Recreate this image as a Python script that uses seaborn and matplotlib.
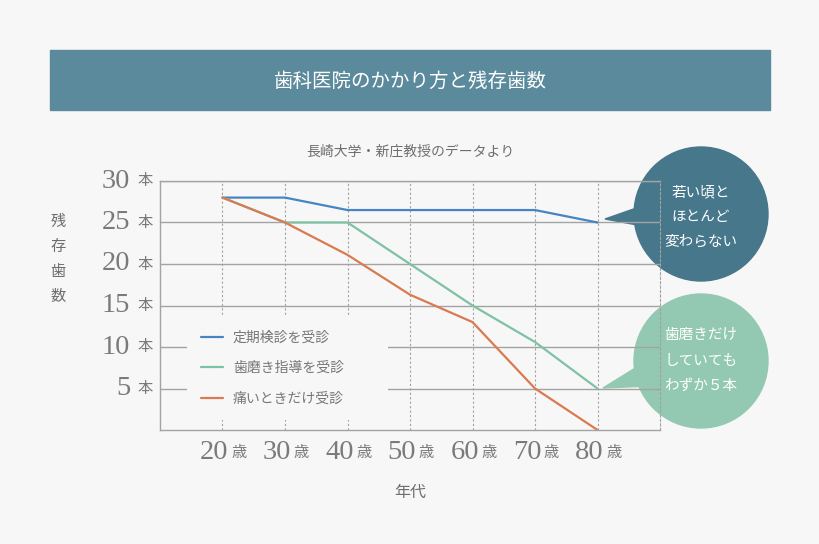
import numpy as np
import pandas as pd
import matplotlib
matplotlib.use("Agg")
import matplotlib.pyplot as plt
from matplotlib.patches import Circle, Polygon, Rectangle
import seaborn as sns

# data
ages = [20, 30, 40, 50, 60, 70, 80]
regular = [28, 28, 26.5, 26.5, 26.5, 26.5, 25]      # 定期検診を受診
brushing = [28, 25, 25, 20, 15, 10.6, 5]            # 歯磨き指導を受診
pain_only = [28, 25, 21.1, 16.3, 13, 5, 0]          # 痛いときだけ受診
group_names = ["定期検診を受診", "歯磨き指導を受診", "痛いときだけ受診"]
y_ticks = [5, 10, 15, 20, 25, 30]

bg = "#F7F7F7"
line_colors = ["#4784C4", "#7DC2A4", "#D97A50"]
grid_gray = "#A3A3A3"
text_gray = "#6E6E6E"

sns.set_theme(style="white")
plt.rcParams["font.family"] = ["Noto Sans CJK JP", "DejaVu Sans"]

df = pd.DataFrame({
    "age": ages * 3,
    "teeth": regular + brushing + pain_only,
    "group": [group_names[0]] * 7 + [group_names[1]] * 7 + [group_names[2]] * 7,
})

fig = plt.figure(figsize=(8.2, 5.44), dpi=100, facecolor=bg)

# overlay in pixel units for banner and callouts (drawn under the chart)
ov = fig.add_axes([0, 0, 1, 1], zorder=0)
ov.set_xlim(0, 820)
ov.set_ylim(544, 0)
ov.axis("off")

ov.add_patch(Rectangle((50, 50), 720, 60, color="#5B8A9C"))
ov.text(410, 81, "歯科医院のかかり方と残存歯数", color="white", fontsize=14,
        ha="center", va="center")
ov.text(410, 152, "長崎大学・新庄教授のデータより", color=text_gray, fontsize=10,
        ha="center", va="center")

# callout bubbles
teal = "#46778B"
mint = "#93C9B3"
ov.add_patch(Circle((701, 214), 67, color=teal))
ov.add_patch(Polygon([(605, 219), (645, 205), (648, 227)], closed=True, color=teal))
for txt, yy in zip(["若い頃と", "ほとんど", "変わらない"], [192, 217, 242]):
    ov.text(701, yy, txt, color="white", fontsize=10.5, ha="center", va="center")

ov.add_patch(Circle((701, 361), 67, color=mint))
ov.add_patch(Polygon([(603, 388), (645, 362), (650, 386)], closed=True, color=mint))
for txt, yy in zip(["歯磨きだけ", "していても", "わずか５本"], [335, 361, 386]):
    ov.text(701, yy, txt, color="white", fontsize=10.5, ha="center", va="center")

# main chart
ax = fig.add_axes([160 / 820, 114 / 544, 500 / 820, 249 / 544], zorder=1)
ax.set_facecolor("none")

sns.lineplot(data=df, x="age", y="teeth", hue="group", hue_order=group_names,
             palette=line_colors, linewidth=1.6, ax=ax)

ax.set_xlim(10, 90)
ax.set_ylim(0, 30)
ax.set_xticks(ages)
ax.set_yticks(y_ticks)
ax.set_xticklabels([])
ax.set_yticklabels([])
ax.tick_params(length=0)
ax.grid(axis="y", color=grid_gray, linewidth=1.0, linestyle="-")
ax.grid(axis="x", color=grid_gray, linewidth=0.8, linestyle=(0, (2, 2)))
ax.set_axisbelow(True)

for side in ["left", "bottom", "top"]:
    ax.spines[side].set_color(grid_gray)
    ax.spines[side].set_linewidth(1.0)
ax.spines["right"].set_color(grid_gray)
ax.spines["right"].set_linewidth(0.8)
ax.spines["right"].set_linestyle((0, (2, 2)))

# y tick labels: serif number + small 本
for v in y_ticks:
    ax.annotate(str(v), xy=(0, v), xycoords=("axes fraction", "data"),
                xytext=(-21.5, 0), textcoords="offset points",
                ha="right", va="center", fontsize=20.5, color="#7A7A7A",
                family="Liberation Serif")
    ax.annotate("本", xy=(0, v), xycoords=("axes fraction", "data"),
                xytext=(-5, 0), textcoords="offset points",
                ha="right", va="center", fontsize=11, color="#7A7A7A")

# x tick labels: serif number + small 歳
for a in ages:
    ax.annotate(str(a), xy=(a, 0), xycoords=("data", "axes fraction"),
                xytext=(4.5, -16), textcoords="offset points",
                ha="right", va="center", fontsize=20.5, color="#7A7A7A",
                family="Liberation Serif")
    ax.annotate("歳", xy=(a, 0), xycoords=("data", "axes fraction"),
                xytext=(6.5, -16.5), textcoords="offset points",
                ha="left", va="center", fontsize=11, color="#7A7A7A")

ax.set_xlabel("")
ax.set_ylabel("")
ax.text(0.5, -0.25, "年代", transform=ax.transAxes, ha="center", va="center",
        fontsize=11.5, color=text_gray)
ax.text(-0.204, 0.687, "残\n存\n歯\n数", transform=ax.transAxes, ha="center",
        va="center", fontsize=11, color=text_gray, linespacing=1.6)

sns.move_legend(ax, "upper left", bbox_to_anchor=(0.054, 0.454, 0.402, 0.0),
                mode="expand", title=None, frameon=True, facecolor=bg,
                edgecolor="none", framealpha=1, fancybox=False, fontsize=10,
                handlelength=1.6, handletextpad=0.7, labelspacing=1.18,
                borderpad=1.0, borderaxespad=0)
for t in ax.get_legend().get_texts():
    t.set_color("#777777")

fig.savefig("out.png", dpi=100, facecolor=bg)
